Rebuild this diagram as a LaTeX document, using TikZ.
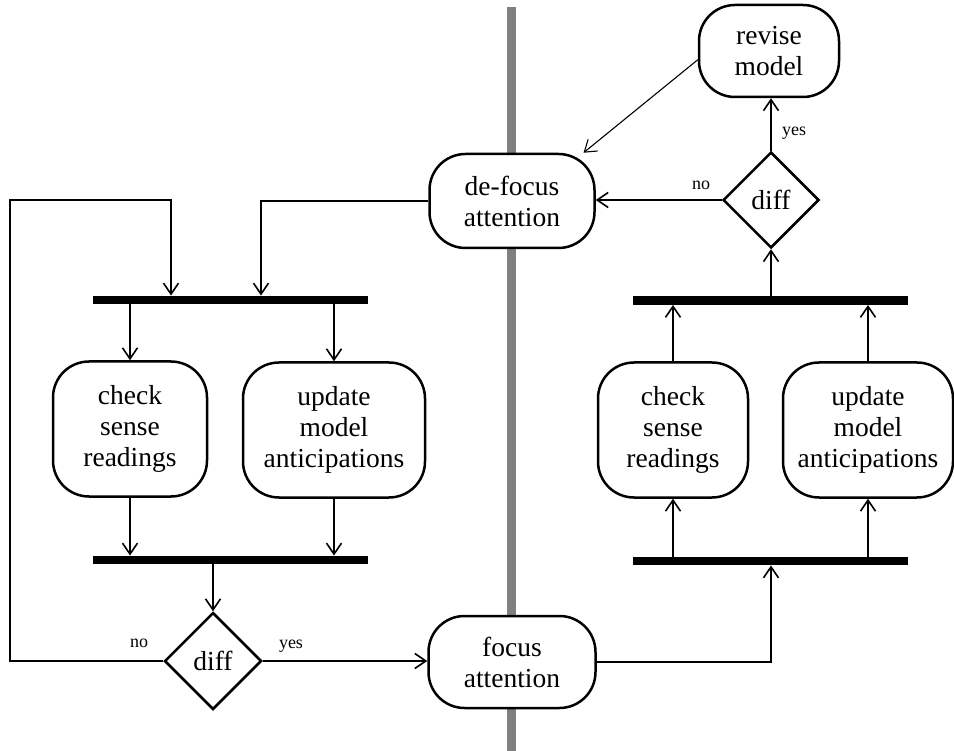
\documentclass[tikz,border=0pt]{standalone}
\usepackage{fontspec}
\setmainfont{Liberation Serif}
\usetikzlibrary{shapes.geometric,arrows.meta}
\begin{document}
\begin{tikzpicture}[x=1pt,y=-1pt,
  activity/.style={draw,line width=2.5pt,fill=white,rounded corners=36pt,
    align=center,inner sep=0pt,font=\fontsize{27.5}{31}\selectfont},
  decision/.style={draw,line width=2.5pt,fill=white,shape=diamond,
    minimum width=97pt,minimum height=97pt,inner sep=0pt,
    font=\fontsize{27.5}{31}\selectfont},
  syncbar/.style={fill=black,draw=none,minimum width=275pt,minimum height=8.5pt,inner sep=0pt},
  flow/.style={line width=2pt,-{Straight Barb[length=11pt,width=15pt,line width=1.6pt]}},
  thinflow/.style={line width=1.1pt,-{Straight Barb[length=11pt,width=15pt,line width=1.1pt]}},
  guard/.style={font=\fontsize{18}{20}\selectfont,inner sep=0pt}]
\useasboundingbox (0,0) rectangle (954,751);

% swimlane separator
\coordinate (laneTop) at (511.5,7);
\coordinate (laneBot) at (511.5,751);
\draw[gray,line width=9pt] (laneTop) -- (laneBot);

% left lane
\node[syncbar] (barLT) at (230.5,300) {};
\node[activity,minimum width=154pt,minimum height=135pt] (checkL) at (130,429) {check\\sense\\readings};
\node[activity,minimum width=182pt,minimum height=135pt] (updL) at (334,430) {update\\model\\anticipations};
\node[syncbar] (barLB) at (230.5,560) {};
\node[decision] (diffL) at (213,661) {diff};

% centre
\node[activity,minimum width=165pt,minimum height=94pt] (defocus) at (512,201) {de-focus\\attention};
\node[activity,minimum width=167pt,minimum height=92pt] (focus) at (512,662) {focus\\attention};

% right lane
\node[activity,minimum width=140pt,minimum height=92pt] (revise) at (769,51) {revise\\model};
\node[decision,minimum width=96pt,minimum height=96pt] (diffR) at (771,200) {diff};
\node[syncbar] (barRT) at (770.5,300.5) {};
\node[activity,minimum width=150pt,minimum height=135pt] (checkR) at (673,430) {check\\sense\\readings};
\node[activity,minimum width=170pt,minimum height=135pt] (updR) at (868,430) {update\\model\\anticipations};
\node[syncbar] (barRB) at (770.5,561) {};

% helper coordinates for the loop back into the upper left bar
\coordinate (loopTop) at (10,200);
\coordinate (inA) at (171,0);
\coordinate (inB) at (261,0);

% left lane flow
\draw[flow] (barLT.south -| checkL) -- (checkL.north);
\draw[flow] (barLT.south -| updL) -- (updL.north);
\draw[flow] (checkL.south) -- (checkL.south |- barLB.north);
\draw[flow] (updL.south) -- (updL.south |- barLB.north);
\draw[flow] (barLB.south -| diffL) -- (diffL.north);
\draw[flow] (diffL.west) -| (loopTop) -| (barLT.north -| inA);
\draw[flow] (defocus.west) -| (barLT.north -| inB);
\draw[flow] (diffL.east) -- (diffL.east -| focus.west);
\node[guard] (noL) at (139,643) {no};
\node[guard] (yesL) at (291,646) {yes};

% right lane flow
\draw[flow] (focus.east) -| (barRB.south -| diffR);
\draw[flow] (barRB.north -| checkR) -- (checkR.south);
\draw[flow] (barRB.north -| updR) -- (updR.south);
\draw[flow] (checkR.north) -- (checkR.north |- barRT.south);
\draw[flow] (updR.north) -- (updR.north |- barRT.south);
\draw[flow] (barRT.north -| diffR) -- (diffR.south);
\draw[flow] (diffR.north) -- (diffR.north |- revise.south);
\draw[flow] (diffR.west) -- (diffR.west -| defocus.east);
\draw[thinflow] (revise.187) -- (defocus.34);
\node[guard] (yesR) at (794,133) {yes};
\node[guard] (noR) at (701,185) {no};
\end{tikzpicture}
\end{document}
